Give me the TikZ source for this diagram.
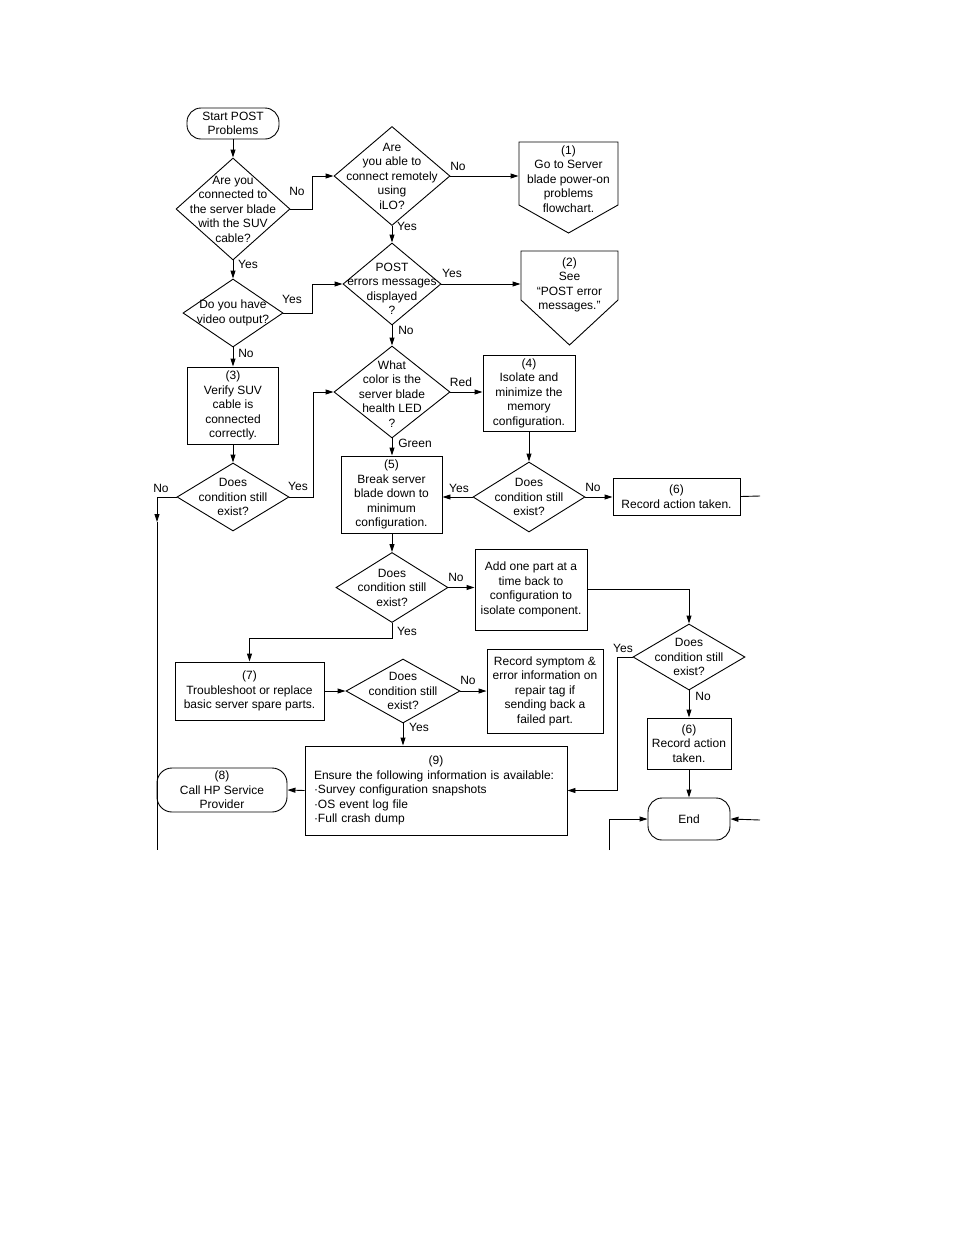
\documentclass[tikz,border=0pt]{standalone}
\usepackage{fontspec}
\setmainfont{Liberation Sans}
\usetikzlibrary{shapes.geometric, arrows.meta}
\newcommand{\flowfont}{\fontsize{12}{14.5}\selectfont}
\tikzset{
  procbox/.style 2 args={draw, rectangle, line width=0.9pt, font=\flowfont, align=center,
    inner sep=0pt, minimum width=#1, minimum height=#2},
  termbox/.style 2 args={procbox={#1}{#2}, rounded corners=14pt},
  decision/.style 2 args={draw, diamond, line width=0.9pt, inner sep=0pt,
    minimum width=#1, minimum height=#2},
  dtext/.style={font=\flowfont, align=center, inner sep=0pt},
  lbl/.style={font=\flowfont, inner sep=0pt},
  conn/.style={line width=0.9pt},
  arr/.style={conn, -{Triangle[length=8pt,width=5pt]}},
}

\begin{document}
\begin{tikzpicture}[x=1pt, y=-1pt]
    \useasboundingbox (0,0) rectangle (954,1235);

    % left column
    \node[termbox={92pt}{31pt}] (start) at (233,123.5) {Start POST\\Problems};
    \node[decision={114pt}{102pt}, label={[dtext]center:{Are you\\connected to\\the server blade\\with the SUV\\cable?}}] (d1) at (233,209) {};
    \node[decision={100pt}{68pt}, label={[dtext]center:{Do you have\\video output?}}] (d5) at (233,313) {};
    \node[procbox={91pt}{77pt}] (b3) at (233,405.5) {(3)\\Verify SUV\\cable is\\connected\\correctly.};
    \node[decision={112pt}{68pt}, label={[dtext]center:{Does\\condition still\\exist?}}] (d6) at (233,497) {};

    % middle column
    \node[decision={116pt}{99pt}, label={[dtext]center:{Are\\you able to\\connect remotely\\using\\iLO?}}] (d2) at (392,176) {};
    \node[decision={98pt}{82pt}, label={[dtext,yshift=-5pt]center:{POST\\errors messages\\displayed\\?}}] (d3) at (392,284) {};
    \node[decision={116pt}{92pt}, label={[dtext,yshift=-2pt]center:{What\\color is the\\server blade\\health LED\\?}}] (d4) at (392,392) {};
    \node[procbox={101pt}{77pt}] (b5) at (391.5,494.5) {(5)\\Break server\\blade down to\\minimum\\configuration.};
    \node[decision={112pt}{70pt}, label={[dtext]center:{Does\\condition still\\exist?}}] (d8) at (392,587.5) {};
    \node[procbox={149pt}{58pt}] (b7) at (249.5,691) {(7)\\Troubleshoot or replace\\basic server spare parts.};
    \node[decision={114pt}{64pt}, label={[dtext]center:{Does\\condition still\\exist?}}] (d10) at (403,691) {};
    \node[procbox={262pt}{89pt}, text width=244pt, align=left] (b9) at (436,790.5)
        {\makebox[\linewidth]{(9)}\\Ensure the following information is available:\\·Survey configuration snapshots\\·OS event log file\\·Full crash dump};
    \node[termbox={130pt}{44pt}, rounded corners=15pt] (b8) at (222,790) {(8)\\Call HP Service\\Provider};

    % right column
    \node[procbox={99pt}{10pt}, draw=none] (n1) at (568.5,179) {(1)\\Go to Server\\blade power-on\\problems\\flowchart.};
    \draw[conn] (519,142) -- (618,142) -- (618,205) -- (568.5,233) -- (519,205) -- cycle;
    \node[procbox={97pt}{10pt}, draw=none] (n2) at (569.5,285) {(2)\\See\\“POST error\\messages.”};
    \draw[conn] (521,251) -- (618,251) -- (618,300) -- (569.5,345) -- (521,300) -- cycle;
    \node[procbox={92pt}{76pt}] (b4) at (529,393) {(4)\\Isolate and\\minimize the\\memory\\configuration.};
    \node[decision={112pt}{70pt}, label={[dtext]center:{Does\\condition still\\exist?}}] (d7) at (529,497) {};
    \node[procbox={127pt}{37pt}] (b6a) at (676.5,496.5) {(6)\\Record action taken.};
    \node[procbox={112pt}{81pt}] (badd) at (531,589.5) {Add one part at a\\time back to\\configuration to\\isolate component.};
    \node[procbox={116pt}{84pt}] (brec) at (545,691) {Record symptom \&\\error information on\\repair tag if\\sending back a\\failed part.};
    \node[decision={112pt}{66pt}, label={[dtext]center:{Does\\condition still\\exist?}}] (d9) at (689,657) {};
    \node[procbox={84pt}{51pt}] (b6b) at (689,743.5) {(6)\\Record action\\taken.};
    \node[termbox={82pt}{42pt}] (end) at (689,819) {End};

    % off-page ends
    \coordinate (offA) at (157,522);
    \coordinate (offL) at (157,850);
    \coordinate (offR1) at (760,496);
    \coordinate (offB) at (609,850);
    \coordinate (offR2) at (760,820);

    % connectors
    \draw[arr] (start) -- (d1);
    \draw[arr] (d1.east) -- ++(22,0) |- (d2.west);
    \draw[arr] (d2.east) -- (d2.east -| n1.west);
    \draw[arr] (d2.south) -- (d3.north);
    \draw[arr] (d3.east) -- (d3.east -| n2.west);
    \draw[arr] (d1.south) -- (d5.north);
    \draw[arr] (d5.east) -- ++(29,0) |- (d3.west);
    \draw[arr] (d5.south) -- (d5.south |- b3.north);
    \draw[arr] (b3.south) -- (b3.south |- d6.north);
    \draw[arr] (d6.east) -- ++(24,0) |- (d4.west);
    \draw[arr] (d6.west) -| (offA);
    \draw[conn] (offA) -- (offL);
    \draw[arr] (d3.south) -- (d4.north);
    \draw[arr] (d4.east) -- (d4.east -| b4.west);
    \draw[arr] (d4.south) -- (d4.south |- b5.north);
    \draw[arr] (b4.south) -- (b4.south |- d7.north);
    \draw[arr] (d7.west) -- (d7.west -| b5.east);
    \draw[arr] (d7.east) -- (d7.east -| b6a.west);
    \draw[conn] (b6a.east) -- (offR1);
    \draw[arr] (d8.north |- b5.south) -- (d8.north);
    \draw[arr] (d8.east) -- (d8.east -| badd.west);
    \draw[arr] (badd.east) -| (d9.north);
    \draw[arr] (d9.south) -- (d9.south |- b6b.north);
    \draw[arr] (b6b.south) -- (b6b.south |- end.north);
    \draw[arr] (d9.west) -- ++(-15,0) |- (b9.east);
    \draw[arr] (d8.south) -- ++(0,15) -| (b7.north);
    \draw[arr] (b7.east) -- (d10.west);
    \draw[arr] (d10.east) -- (d10.east -| brec.west);
    \draw[arr] (d10.south) -- (d10.south |- b9.north);
    \draw[arr] (b9.west) -- (b8.east);
    \draw[arr] (offB) |- (end.west);
    \draw[arr] (offR2) -- (end.east);

    % branch labels
    \node[lbl] (lNo1) at (297,191) {No};
    \node[lbl] (lNo2) at (458,166) {No};
    \node[lbl] (lYes1) at (407,226) {Yes};
    \node[lbl] (lYes2) at (452,273) {Yes};
    \node[lbl] (lNo3) at (406,330) {No};
    \node[lbl] (lYes3) at (248,264) {Yes};
    \node[lbl] (lYes4) at (292,299) {Yes};
    \node[lbl] (lNo4) at (246,353) {No};
    \node[lbl] (lYes5) at (298,486) {Yes};
    \node[lbl] (lNo5) at (161,488) {No};
    \node[lbl] (lRed) at (461,382) {Red};
    \node[lbl] (lGreen) at (415,443) {Green};
    \node[lbl] (lYes6) at (459,488) {Yes};
    \node[lbl] (lNo6) at (593,487) {No};
    \node[lbl] (lNo7) at (456,577) {No};
    \node[lbl] (lYes7) at (407,631) {Yes};
    \node[lbl] (lYes8) at (623,648) {Yes};
    \node[lbl] (lNo8) at (703,696) {No};
    \node[lbl] (lNo9) at (468,680) {No};
    \node[lbl] (lYes9) at (419,727) {Yes};
\end{tikzpicture}
\end{document}
